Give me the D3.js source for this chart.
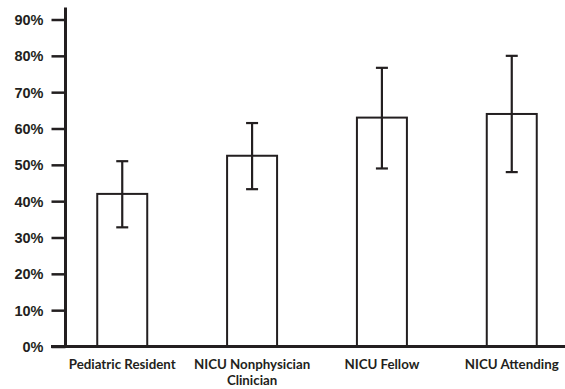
<!DOCTYPE html>
<html>
<head>
<meta charset="utf-8">
<script src="https://cdn.jsdelivr.net/npm/d3@7"></script>
<style>
  body { margin: 0; background: #fff; }
  .tick-label { font-family: "Liberation Sans", Arial, sans-serif; font-weight: bold; font-size: 14.5px; fill: #231f20; }
  .cat-label { font-family: Lato, "Open Sans", sans-serif; font-weight: bold; font-size: 13.3px; fill: #231f20; }
</style>
</head>
<body>
<div id="chart"></div>
<script>
const categories = ["Pediatric Resident", "NICU Nonphysician Clinician", "NICU Fellow", "NICU Attending"];
const values = [42, 52.5, 63, 64];
const errLow = [32.8, 43.3, 49, 48];
const errHigh = [51, 61.5, 76.7, 80];
const tickValues = [0, 10, 20, 30, 40, 50, 60, 70, 80, 90];

const width = 565, height = 389;
const ink = "#231f20";

const svg = d3.select("#chart").append("svg")
  .attr("width", width)
  .attr("height", height);

const y = d3.scaleLinear()
  .domain([0, 90])
  .range([346.5, 19.5]);

const x = d3.scaleBand()
  .domain(categories)
  .range([57, 577])
  .paddingInner(0.615)
  .paddingOuter(0.31);

// bars
const bars = svg.append("g");
categories.forEach((c, i) => {
  bars.append("rect")
    .attr("x", x(c))
    .attr("y", y(values[i]))
    .attr("width", x.bandwidth())
    .attr("height", y(0) - y(values[i]))
    .attr("fill", "#fff")
    .attr("stroke", ink)
    .attr("stroke-width", 2);
});

// error bars
const errs = svg.append("g").attr("stroke", ink).attr("stroke-width", 2.2);
categories.forEach((c, i) => {
  const cx = x(c) + x.bandwidth() / 2;
  errs.append("line").attr("x1", cx).attr("x2", cx).attr("y1", y(errLow[i])).attr("y2", y(errHigh[i]));
  errs.append("line").attr("x1", cx - 6).attr("x2", cx + 6).attr("y1", y(errHigh[i])).attr("y2", y(errHigh[i]));
  errs.append("line").attr("x1", cx - 6).attr("x2", cx + 6).attr("y1", y(errLow[i])).attr("y2", y(errLow[i]));
});

// y axis
const yAxis = svg.append("g").attr("transform", "translate(65.5,0)");
yAxis.call(d3.axisLeft(y).tickValues(tickValues).tickSize(14).tickFormat(d => d + "%"));
yAxis.select(".domain").remove();
yAxis.selectAll(".tick line").attr("stroke", ink).attr("stroke-width", 2.5);
yAxis.selectAll(".tick text").attr("class", "tick-label").attr("x", -22).attr("dy", "0.35em");

svg.append("line")
  .attr("x1", 65.5).attr("x2", 65.5)
  .attr("y1", y(93.3)).attr("y2", y(0) + 1.5)
  .attr("stroke", ink).attr("stroke-width", 3);

// x axis
svg.append("line")
  .attr("x1", 51).attr("x2", width)
  .attr("y1", y(0)).attr("y2", y(0))
  .attr("stroke", ink).attr("stroke-width", 3);

// category labels
const labels = svg.append("g");
categories.forEach(c => {
  const cx = x(c) + x.bandwidth() / 2;
  const parts = c === "NICU Nonphysician Clinician" ? ["NICU Nonphysician", "Clinician"] : [c];
  parts.forEach((p, j) => {
    labels.append("text")
      .attr("class", "cat-label")
      .attr("x", cx)
      .attr("y", 369 + j * 16)
      .attr("text-anchor", "middle")
      .text(p);
  });
});
</script>
</body>
</html>
